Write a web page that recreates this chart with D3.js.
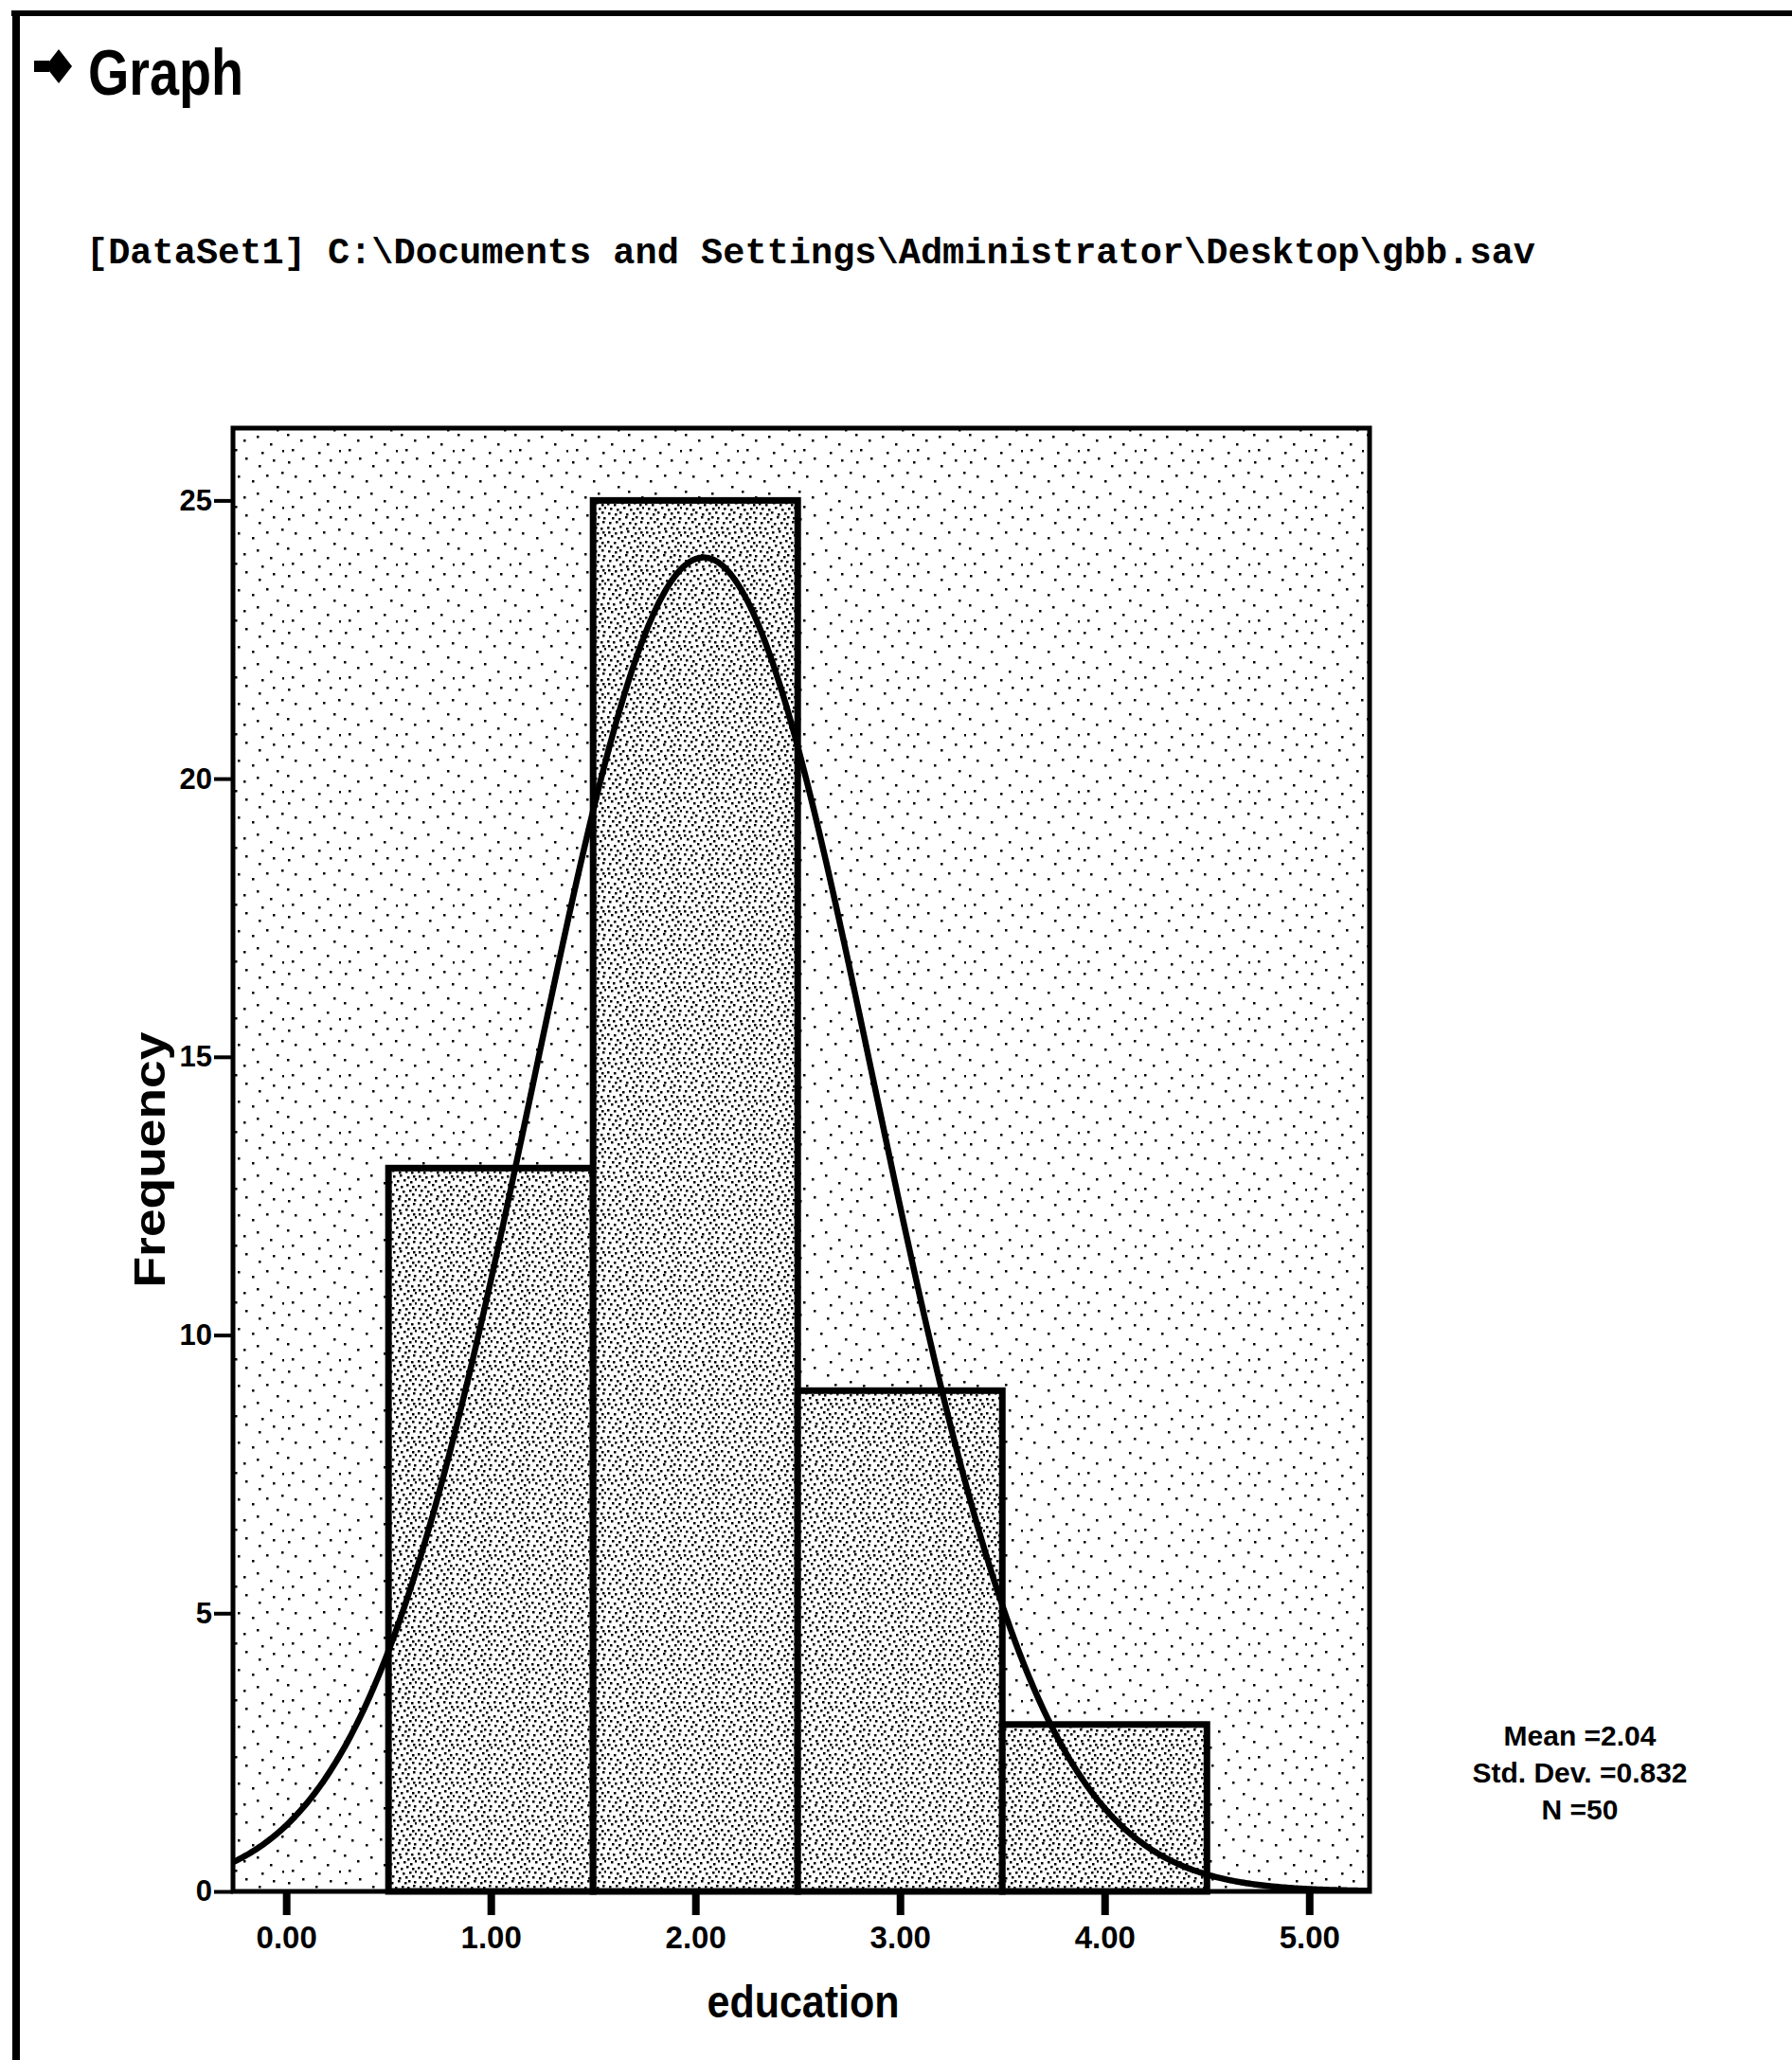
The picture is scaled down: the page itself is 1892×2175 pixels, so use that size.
<!DOCTYPE html>
<html>
<head>
<meta charset="utf-8">
<script src="https://cdn.jsdelivr.net/npm/d3@7"></script>
<style>
  html, body { margin: 0; padding: 0; background: #fff; }
  svg { display: block; }
</style>
</head>
<body>
<script>
// Histogram of "education" with a fitted normal curve
const binCenters = [1, 2, 3, 4];
const frequencies = [13, 25, 9, 3];
const binWidth = 1;

const xTicks = [0, 1, 2, 3, 4, 5];
const xTickLabels = ["0.00", "1.00", "2.00", "3.00", "4.00", "5.00"];
const yTicks = [0, 5, 10, 15, 20, 25];

const statNames = ["Mean =", "Std. Dev. =", "N ="];
const statTexts = ["2.04", "0.832", "50"];
const statValues = statTexts.map(Number);

const W = 1892, H = 2175;
const frame = { left: 246, right: 1446, top: 452, bottom: 1997 };

const svg = d3.select("body").append("svg")
  .attr("width", W).attr("height", H)
  .attr("viewBox", `0 0 ${W} ${H}`);

// Stipple fills: sparse for the plot area, dense for the bars
const defs = svg.append("defs");
const bgDots = [[4,7],[19,3],[33,11],[48,5],[57,18],[11,22],[26,27],[41,21],[52,33],
                [3,38],[17,44],[31,40],[45,48],[58,55],[8,54],[36,57]];
const barDots = [[2,1],[9,2],[15,1],[22,0],[30,2],[36,1],
                 [5,5],[12,7],[19,6],[26,5],[33,7],[38,4],
                 [1,11],[8,12],[16,10],[23,12],[29,10],[35,12],
                 [4,16],[11,17],[18,15],[25,17],[32,16],[38,15],
                 [2,21],[9,22],[14,20],[21,22],[28,21],[35,20],
                 [6,26],[13,27],[20,25],[27,27],[31,25],[37,26],
                 [3,31],[10,30],[17,32],[24,31],[30,32],[36,30],
                 [1,36],[7,37],[14,35],[21,37],[28,36],[34,37]];
function stipple(id, size, dots) {
  const p = defs.append("pattern").attr("id", id)
    .attr("patternUnits", "userSpaceOnUse").attr("width", size).attr("height", size);
  p.append("rect").attr("width", size).attr("height", size).attr("fill", "#fff");
  p.selectAll("rect.d").data(dots).join("rect").attr("class", "d")
    .attr("x", d => d[0]).attr("y", d => d[1]).attr("width", 2.5).attr("height", 2.5).attr("fill", "#000");
}
stipple("bgDots", 60, bgDots);
stipple("barDots", 40, barDots);
defs.append("clipPath").attr("id", "plotClip").append("rect")
  .attr("x", frame.left).attr("y", frame.top)
  .attr("width", frame.right - frame.left).attr("height", frame.bottom - frame.top);

// Output window border
svg.append("line").attr("x1", 12).attr("x2", W).attr("y1", 14).attr("y2", 14)
  .attr("stroke", "#000").attr("stroke-width", 6);
svg.append("line").attr("x1", 17).attr("x2", 17).attr("y1", 11).attr("y2", H)
  .attr("stroke", "#000").attr("stroke-width", 8);

// Navigator item icon and heading
svg.append("rect").attr("x", 36).attr("y", 64).attr("width", 16).attr("height", 12).attr("fill", "#000");
svg.append("path").attr("d", "M48,70 L62,52 L76,70 L62,88 Z").attr("fill", "#000");
svg.append("text").attr("x", 93).attr("y", 100)
  .attr("font-family", "'Liberation Sans', Arial, sans-serif").attr("font-weight", "bold")
  .attr("font-size", 68).attr("textLength", 164).attr("lengthAdjust", "spacingAndGlyphs")
  .text("Graph");
svg.append("text").attr("x", 91).attr("y", 278)
  .attr("font-family", "'Liberation Mono', 'DejaVu Sans Mono', monospace").attr("font-weight", "bold")
  .attr("font-size", 38).attr("textLength", 1530).attr("lengthAdjust", "spacingAndGlyphs")
  .text("[DataSet1] C:\\Documents and Settings\\Administrator\\Desktop\\gbb.sav");

// Scales
const x = d3.scaleLinear().domain([-0.26, 5.295]).range([frame.left, frame.right]);
const y = d3.scaleLinear().domain([0, 26.3]).range([frame.bottom, frame.top]);

// Plot area
svg.append("rect").attr("x", frame.left).attr("y", frame.top)
  .attr("width", frame.right - frame.left).attr("height", frame.bottom - frame.top)
  .attr("fill", "url(#bgDots)");

// Bars
svg.append("g").selectAll("rect").data(binCenters).join("rect")
  .attr("x", d => x(d - binWidth / 2))
  .attr("width", d => x(d + binWidth / 2) - x(d - binWidth / 2))
  .attr("y", (d, i) => y(frequencies[i]))
  .attr("height", (d, i) => y(0) - y(frequencies[i]))
  .attr("fill", "url(#barDots)")
  .attr("stroke", "#000").attr("stroke-width", 7);

// Normal curve from the stated mean, standard deviation and N
const [mean, sd, n] = statValues;
const density = v => n * binWidth * Math.exp(-0.5 * ((v - mean) / sd) ** 2) / (sd * Math.sqrt(2 * Math.PI));
const xs = d3.ticks(x.domain()[0], x.domain()[1], 600);
xs.unshift(x.domain()[0]); xs.push(x.domain()[1]);
svg.append("path").datum(xs)
  .attr("clip-path", "url(#plotClip)")
  .attr("fill", "none").attr("stroke", "#000").attr("stroke-width", 6.5)
  .attr("d", d3.line().x(v => x(v)).y(v => y(density(v))).curve(d3.curveMonotoneX));

// Frame
svg.append("rect").attr("x", frame.left).attr("y", frame.top)
  .attr("width", frame.right - frame.left).attr("height", frame.bottom - frame.top)
  .attr("fill", "none").attr("stroke", "#000").attr("stroke-width", 5);

// Axes
const yAxis = svg.append("g").attr("transform", `translate(${frame.left},0)`)
  .call(d3.axisLeft(y).tickValues(yTicks).tickSize(20).tickPadding(2));
yAxis.select(".domain").remove();
yAxis.selectAll("line").attr("stroke-width", 4);
yAxis.selectAll("text").attr("font-family", "'Liberation Sans', Arial, sans-serif")
  .attr("font-weight", "bold").attr("font-size", 31);

const xAxis = svg.append("g").attr("transform", `translate(0,${frame.bottom})`)
  .call(d3.axisBottom(x).tickValues(xTicks).tickFormat((d, i) => xTickLabels[i]).tickSize(25).tickPadding(12));
xAxis.select(".domain").remove();
xAxis.selectAll("line").attr("stroke-width", 8);
xAxis.selectAll("text").attr("font-family", "'Liberation Sans', Arial, sans-serif")
  .attr("font-weight", "bold").attr("font-size", 33);

// Axis titles
svg.append("text").attr("x", (frame.left + frame.right) / 2 + 2).attr("y", 2130)
  .attr("text-anchor", "middle")
  .attr("font-family", "'Liberation Sans', Arial, sans-serif").attr("font-weight", "bold")
  .attr("font-size", 48).attr("textLength", 203).attr("lengthAdjust", "spacingAndGlyphs")
  .text("education");
svg.append("text")
  .attr("transform", `translate(174,${(frame.top + frame.bottom) / 2}) rotate(-90)`)
  .attr("text-anchor", "middle")
  .attr("font-family", "'Liberation Sans', Arial, sans-serif").attr("font-weight", "bold")
  .attr("font-size", 46).attr("textLength", 270).attr("lengthAdjust", "spacingAndGlyphs")
  .text("Frequency");

// Summary statistics
svg.append("g").selectAll("text").data(statNames).join("text")
  .attr("x", 1668).attr("y", (d, i) => 1843 + i * 39)
  .attr("text-anchor", "middle")
  .attr("font-family", "'Liberation Sans', Arial, sans-serif").attr("font-weight", "bold")
  .attr("font-size", 30)
  .text((d, i) => d + statTexts[i]);
</script>
</body>
</html>
